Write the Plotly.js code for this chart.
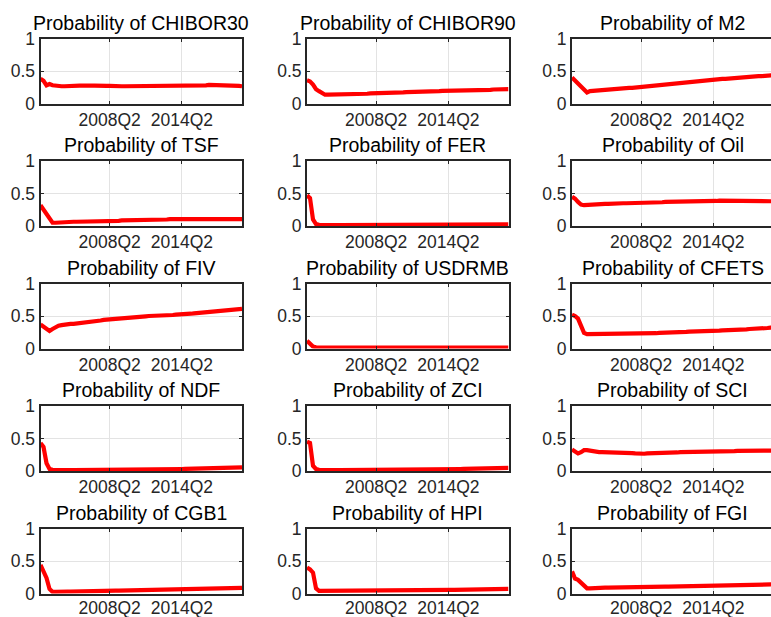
<!DOCTYPE html>
<html>
<head>
<meta charset="utf-8">
<script src="https://cdn.plot.ly/plotly-3.0.1.min.js"></script>
<style>html,body{margin:0;padding:0;background:#fff;}#chart{width:771px;height:617px;}</style>
</head>
<body>
<div id="chart"></div>
<script>
// Quarterly sample: 2002Q3 .. 2019Q2 (68 quarters)
const startYear = 2002, startQ = 3, nQuarters = 68;
const quarters = [];
for (let i = 0; i < nQuarters; i++) {
  const q = startQ - 1 + i;
  quarters.push((startYear + Math.floor(q / 4)) + 'Q' + (q % 4 + 1));
}
const xTickLabels = ['2008Q2', '2014Q2'];
const yTickVals = [0, 0.5, 1];
const yTickLabels = ['0', '0.5', '1'];

const seriesNames = ['CHIBOR30','CHIBOR90','M2','TSF','FER','Oil','FIV','USDRMB','CFETS','NDF','ZCI','SCI','CGB1','HPI','FGI'];

const CHIBOR30 = [0.38,0.35,0.28,0.30,0.28,0.27,0.27,0.265,0.265,0.27,
0.27,0.27,0.275,0.275,0.275,0.28,0.28,0.275,0.275,0.27,
0.27,0.275,0.27,0.27,0.265,0.265,0.26,0.265,0.265,0.265,
0.27,0.27,0.27,0.27,0.27,0.275,0.275,0.275,0.275,0.275,
0.275,0.275,0.275,0.275,0.275,0.275,0.28,0.28,0.28,0.28,
0.28,0.28,0.28,0.28,0.28,0.28,0.285,0.285,0.285,0.285,
0.285,0.28,0.28,0.28,0.28,0.275,0.27,0.265];
const CHIBOR90 = [0.36,0.34,0.29,0.22,0.19,0.16,0.135,0.135,0.135,0.14,
0.14,0.14,0.14,0.145,0.145,0.145,0.15,0.15,0.15,0.15,
0.15,0.155,0.155,0.155,0.155,0.16,0.16,0.16,0.165,0.165,
0.165,0.17,0.17,0.175,0.175,0.175,0.18,0.18,0.18,0.185,
0.185,0.185,0.19,0.19,0.19,0.195,0.195,0.195,0.195,0.2,
0.2,0.2,0.2,0.2,0.205,0.205,0.205,0.205,0.21,0.21,
0.21,0.21,0.215,0.215,0.215,0.22,0.22,0.22];
const M2 = [0.40,0.35,0.30,0.25,0.20,0.17,0.19,0.195,0.20,0.205,
0.21,0.21,0.215,0.22,0.22,0.225,0.23,0.23,0.235,0.24,
0.24,0.245,0.25,0.25,0.255,0.255,0.26,0.26,0.265,0.27,
0.275,0.28,0.29,0.295,0.30,0.305,0.31,0.315,0.32,0.325,
0.33,0.335,0.34,0.345,0.35,0.355,0.36,0.365,0.37,0.375,
0.38,0.38,0.385,0.39,0.39,0.395,0.40,0.40,0.405,0.41,
0.41,0.415,0.42,0.42,0.425,0.43,0.43,0.435];
const TSF = [0.32,0.25,0.18,0.11,0.05,0.05,0.055,0.055,0.06,0.06,
0.06,0.065,0.065,0.065,0.07,0.07,0.07,0.07,0.075,0.075,
0.075,0.075,0.08,0.08,0.08,0.08,0.08,0.085,0.085,0.085,
0.085,0.09,0.09,0.09,0.09,0.095,0.095,0.095,0.1,0.1,
0.1,0.1,0.1,0.105,0.105,0.105,0.11,0.11,0.11,0.11,
0.11,0.115,0.115,0.115,0.115,0.115,0.12,0.12,0.12,0.12,
0.12,0.12,0.12,0.12,0.115,0.115,0.11,0.105];
const FER = [0.47,0.43,0.10,0.03,0.018,0.015,0.015,0.015,0.015,0.015,
0.015,0.015,0.015,0.015,0.015,0.015,0.015,0.015,0.015,0.015,
0.015,0.015,0.015,0.015,0.015,0.015,0.015,0.015,0.015,0.015,
0.015,0.015,0.015,0.016,0.016,0.016,0.016,0.016,0.017,0.017,
0.017,0.017,0.017,0.018,0.018,0.018,0.018,0.018,0.019,0.019,
0.019,0.019,0.02,0.02,0.02,0.021,0.021,0.021,0.022,0.022,
0.022,0.023,0.023,0.023,0.024,0.024,0.025,0.025];
const Oil = [0.45,0.42,0.37,0.33,0.32,0.325,0.33,0.33,0.335,0.335,
0.34,0.34,0.34,0.345,0.345,0.345,0.35,0.35,0.35,0.35,
0.355,0.355,0.355,0.36,0.36,0.36,0.36,0.365,0.365,0.365,
0.365,0.37,0.37,0.37,0.37,0.375,0.375,0.375,0.375,0.38,
0.38,0.38,0.38,0.38,0.385,0.385,0.385,0.385,0.385,0.39,
0.39,0.39,0.39,0.39,0.39,0.39,0.39,0.39,0.39,0.39,
0.39,0.385,0.385,0.385,0.385,0.385,0.38,0.38];
const FIV = [0.37,0.34,0.30,0.27,0.30,0.33,0.35,0.36,0.37,0.375,
0.38,0.38,0.385,0.385,0.39,0.39,0.395,0.40,0.41,0.42,
0.43,0.44,0.445,0.445,0.45,0.45,0.455,0.46,0.465,0.47,
0.475,0.48,0.485,0.49,0.49,0.495,0.50,0.50,0.505,0.505,
0.505,0.51,0.51,0.515,0.515,0.52,0.52,0.525,0.53,0.535,
0.535,0.54,0.545,0.545,0.55,0.555,0.56,0.56,0.565,0.57,
0.575,0.58,0.585,0.59,0.595,0.60,0.605,0.61];
const USDRMB = [0.12,0.07,0.03,0.018,0.015,0.015,0.015,0.015,0.015,0.015,
0.015,0.015,0.015,0.015,0.015,0.015,0.015,0.015,0.015,0.015,
0.015,0.015,0.015,0.015,0.015,0.015,0.015,0.015,0.015,0.015,
0.015,0.015,0.015,0.015,0.015,0.015,0.015,0.015,0.015,0.015,
0.015,0.015,0.015,0.015,0.015,0.015,0.015,0.015,0.015,0.015,
0.015,0.015,0.015,0.015,0.015,0.015,0.015,0.015,0.015,0.015,
0.015,0.015,0.015,0.015,0.015,0.015,0.015,0.015];
const CFETS = [0.52,0.50,0.46,0.35,0.24,0.22,0.22,0.22,0.22,0.22,
0.22,0.22,0.22,0.225,0.225,0.225,0.225,0.225,0.225,0.23,
0.23,0.23,0.23,0.23,0.23,0.23,0.235,0.235,0.235,0.24,
0.24,0.24,0.245,0.245,0.25,0.25,0.25,0.255,0.255,0.26,
0.26,0.26,0.265,0.265,0.265,0.27,0.27,0.27,0.275,0.275,
0.28,0.28,0.28,0.285,0.285,0.29,0.29,0.295,0.295,0.30,
0.30,0.305,0.305,0.31,0.31,0.315,0.32,0.32];
const NDF = [0.43,0.37,0.12,0.03,0.018,0.015,0.015,0.015,0.015,0.015,
0.015,0.015,0.015,0.015,0.015,0.015,0.015,0.015,0.015,0.015,
0.016,0.016,0.016,0.016,0.017,0.017,0.018,0.018,0.019,0.019,
0.02,0.02,0.021,0.021,0.022,0.022,0.023,0.023,0.024,0.024,
0.025,0.026,0.027,0.028,0.029,0.029,0.03,0.031,0.032,0.033,
0.034,0.035,0.036,0.037,0.038,0.039,0.04,0.041,0.042,0.043,
0.044,0.045,0.046,0.047,0.048,0.05,0.052,0.055];
const ZCI = [0.45,0.43,0.08,0.03,0.018,0.015,0.015,0.015,0.015,0.015,
0.015,0.015,0.015,0.015,0.015,0.015,0.015,0.015,0.015,0.015,
0.016,0.016,0.016,0.016,0.017,0.017,0.017,0.018,0.018,0.018,
0.019,0.019,0.02,0.02,0.02,0.021,0.021,0.022,0.022,0.023,
0.023,0.024,0.024,0.025,0.025,0.026,0.027,0.027,0.028,0.029,
0.03,0.031,0.032,0.033,0.034,0.035,0.036,0.037,0.038,0.039,
0.04,0.041,0.042,0.043,0.044,0.045,0.046,0.047];
const SCI = [0.33,0.30,0.27,0.29,0.32,0.32,0.31,0.30,0.295,0.29,
0.29,0.29,0.285,0.285,0.285,0.285,0.28,0.28,0.28,0.28,
0.275,0.27,0.265,0.265,0.265,0.27,0.27,0.27,0.275,0.275,
0.28,0.28,0.28,0.285,0.285,0.285,0.29,0.29,0.29,0.29,
0.295,0.295,0.295,0.295,0.3,0.3,0.3,0.3,0.3,0.3,
0.305,0.305,0.305,0.305,0.305,0.31,0.31,0.31,0.31,0.31,
0.31,0.31,0.31,0.31,0.315,0.315,0.315,0.315];
const CGB1 = [0.44,0.33,0.24,0.07,0.025,0.025,0.03,0.03,0.03,0.03,
0.03,0.032,0.032,0.034,0.034,0.035,0.036,0.037,0.038,0.039,
0.04,0.04,0.041,0.042,0.043,0.044,0.045,0.046,0.047,0.048,
0.049,0.05,0.05,0.051,0.052,0.053,0.054,0.055,0.056,0.057,
0.058,0.059,0.06,0.06,0.061,0.062,0.063,0.064,0.065,0.066,
0.067,0.068,0.069,0.07,0.071,0.072,0.073,0.074,0.075,0.076,
0.077,0.078,0.079,0.08,0.082,0.084,0.086,0.088];
const HPI = [0.40,0.37,0.32,0.08,0.04,0.04,0.04,0.04,0.04,0.04,
0.04,0.04,0.04,0.04,0.04,0.04,0.042,0.042,0.042,0.042,
0.043,0.043,0.044,0.044,0.045,0.045,0.045,0.046,0.046,0.047,
0.047,0.048,0.048,0.049,0.049,0.05,0.05,0.051,0.051,0.052,
0.052,0.053,0.053,0.054,0.054,0.055,0.055,0.056,0.056,0.057,
0.057,0.058,0.058,0.059,0.06,0.06,0.061,0.062,0.062,0.063,
0.064,0.065,0.065,0.066,0.067,0.068,0.069,0.07];
const FGI = [0.34,0.23,0.21,0.17,0.11,0.08,0.08,0.085,0.085,0.09,
0.09,0.09,0.09,0.09,0.092,0.092,0.094,0.094,0.095,0.095,
0.096,0.097,0.098,0.099,0.1,0.1,0.101,0.102,0.103,0.104,
0.105,0.106,0.107,0.108,0.109,0.11,0.11,0.111,0.112,0.113,
0.114,0.115,0.116,0.117,0.118,0.119,0.12,0.12,0.121,0.122,
0.123,0.124,0.125,0.126,0.127,0.128,0.129,0.13,0.13,0.131,
0.132,0.133,0.134,0.135,0.136,0.137,0.138,0.14];

const seriesValues = [CHIBOR30,CHIBOR90,M2,TSF,FER,Oil,FIV,USDRMB,CFETS,NDF,ZCI,SCI,CGB1,HPI,FGI];

// ---- layout geometry (pixels) ----
const W = 771, H = 617;
const colLeft = [40.5, 307, 572];
const plotW = 201.5;
const rowTop = [38.5, 161, 283.5, 406, 528.5];
const plotH = 65;
const ink = '#262626';
const FONT = '"Liberation Sans", Arial, Helvetica, sans-serif';

const xIdx = quarters.map((q, i) => i);
const xTickVals = xTickLabels.map(l => quarters.indexOf(l));

const traces = [];
const layout = {
  width: W, height: H,
  margin: {l: 0, r: 0, t: 0, b: 0},
  paper_bgcolor: '#ffffff', plot_bgcolor: '#ffffff',
  showlegend: false,
  font: {family: FONT, color: ink},
  annotations: []
};

seriesNames.forEach((name, i) => {
  const r = Math.floor(i / 3), c = i % 3;
  const n = i + 1;
  const xa = 'xaxis' + (n === 1 ? '' : n), ya = 'yaxis' + (n === 1 ? '' : n);
  const xr = 'x' + (n === 1 ? '' : n), yr = 'y' + (n === 1 ? '' : n);
  const left = colLeft[c];
  const right = Math.min(left + plotW, W);
  const visFrac = (right - left) / plotW;
  const top = rowTop[r], bottom = top + plotH;

  traces.push({
    type: 'scatter', mode: 'lines',
    x: xIdx, y: seriesValues[i],
    xaxis: xr, yaxis: yr,
    line: {color: '#ff0000', width: 4.2},
    hoverinfo: 'skip'
  });

  layout[xa] = {
    domain: [left / W, right / W],
    anchor: yr,
    range: [0, (nQuarters - 1) * visFrac],
    tickmode: 'array', tickvals: xTickVals, ticktext: xTickLabels,
    ticks: 'inside', ticklen: 3, tickwidth: 1, tickcolor: ink,
    showline: true, linecolor: ink, linewidth: 2, mirror: 'ticks',
    showgrid: true, gridcolor: '#e3e3e3', gridwidth: 1,
    zeroline: false,
    tickfont: {family: FONT, size: 17.5, color: ink},
    ticklabelstandoff: (r === 4 ? -3 : -1),
    fixedrange: true
  };
  layout[ya] = {
    domain: [1 - bottom / H, 1 - top / H],
    anchor: xr,
    range: [0, 1],
    tickmode: 'array', tickvals: yTickVals, ticktext: yTickLabels,
    ticks: 'inside', ticklen: 3, tickwidth: 1, tickcolor: ink,
    showline: true, linecolor: ink, linewidth: 2, mirror: (c === 2 ? false : 'ticks'),
    showgrid: true, gridcolor: '#e3e3e3', gridwidth: 1,
    zeroline: false,
    tickfont: {family: FONT, size: 17.5, color: ink},
    ticklabelstandoff: 0,
    fixedrange: true
  };
  layout.annotations.push({
    text: 'Probability of ' + name,
    xref: 'paper', yref: 'paper',
    x: (left + plotW / 2) / W, y: 1 - top / H,
    xanchor: 'center', yanchor: 'middle', yshift: 16,
    showarrow: false,
    font: {family: FONT, size: 19.5, color: '#000000'}
  });
});

Plotly.newPlot('chart', traces, layout, {staticPlot: true, displayModeBar: false});
</script>
</body>
</html>
